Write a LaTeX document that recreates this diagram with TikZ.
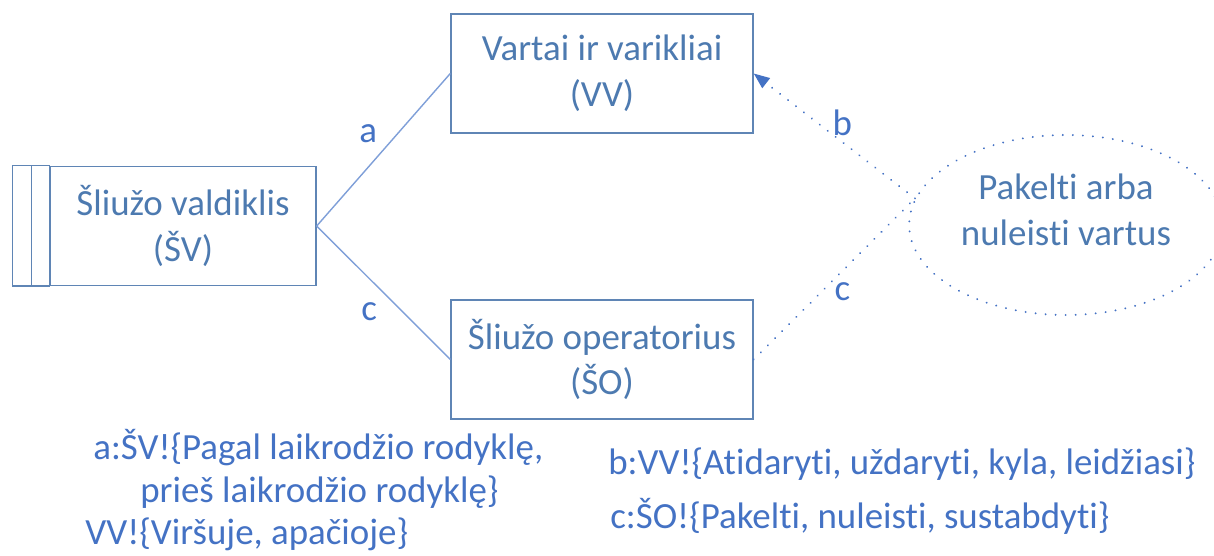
\documentclass[tikz,border=0pt]{standalone}
\usepackage{fontspec}
\setmainfont{Carlito}[Ligatures=NoCommon]
\usetikzlibrary{positioning, shapes, arrows.meta}
\definecolor{boxblue}{RGB}{95,133,181}
\definecolor{txtblue}{RGB}{77,122,176}
\definecolor{lblblue}{RGB}{68,114,196}
\definecolor{lineblue}{RGB}{127,159,216}

\begin{document}
\begin{tikzpicture}[box/.style={draw=boxblue, thick, text=txtblue, align=center, minimum height=2.38cm, font=\fontsize{21}{26}\selectfont},
  lbl/.style={text=lblblue, font=\fontsize{21}{26}\selectfont},
  link/.style={draw=lineblue, thick},
  dots/.style={draw=lblblue, line width=1.2pt, line cap=round, dash pattern=on 0.01pt off 5.7pt},
  note/.style={text=lblblue, anchor=base west, inner sep=0pt, font=\fontsize{21}{26}\selectfont}]
  \useasboundingbox (0,0) rectangle (24.28,11.12);

  \node[box, minimum width=5.32cm] (sv) at (3.66,6.6) {Šliužo valdiklis\\(ŠV)};
  \draw[boxblue, thick] ([xshift=-0.74cm]sv.south west) rectangle (sv.north west);
  \draw[boxblue, thick] ([xshift=-0.36cm]sv.south west) -- ([xshift=-0.36cm]sv.north west);

  \node[box, minimum width=6.04cm] (vv) at (12.04,9.65) {Vartai ir varikliai\\(VV)};
  \node[box, minimum width=6.04cm] (so) at (12.04,3.93) {Šliužo operatorius\\(ŠO)};
  \node[ellipse, dots, text=txtblue, align=center, text depth=0.6cm, minimum width=5.92cm, minimum height=3.6cm, font=\fontsize{21}{26}\selectfont] (pv) at (21.32,6.62) {Pakelti arba\\nuleisti vartus};

  \draw[link] (sv.east) -- node[lbl, above left] {a} (vv.west);
  \draw[link] (sv.east) -- node[lbl, below left, yshift=-2pt] {c} (so.west);
  \draw[dots, -{Triangle[length=9pt, width=7pt]}] (pv.170) -- node[lbl, above, pos=0.45] {b} (vv.east);
  \draw[dots] (so.east) -- node[lbl, below, pos=0.55, yshift=-3pt] {c} (pv.170);

  \node[note] (na1) at (1.86,1.92) {a:ŠV!\{Pagal laikrodžio rodyklę,};
  \node[note] (na2) at (2.8,1.06) {prieš laikrodžio rodyklę\}};
  \node[note] (na3) at (1.7,0.22) {VV!\{Viršuje, apačioje\}};
  \node[note] (nb) at (12.16,1.62) {b:VV!\{Atidaryti, uždaryti, kyla, leidžiasi\}};
  \node[note] (nc) at (12.2,0.55) {c:ŠO!\{Pakelti, nuleisti, sustabdyti\}};
\end{tikzpicture}
\end{document}
